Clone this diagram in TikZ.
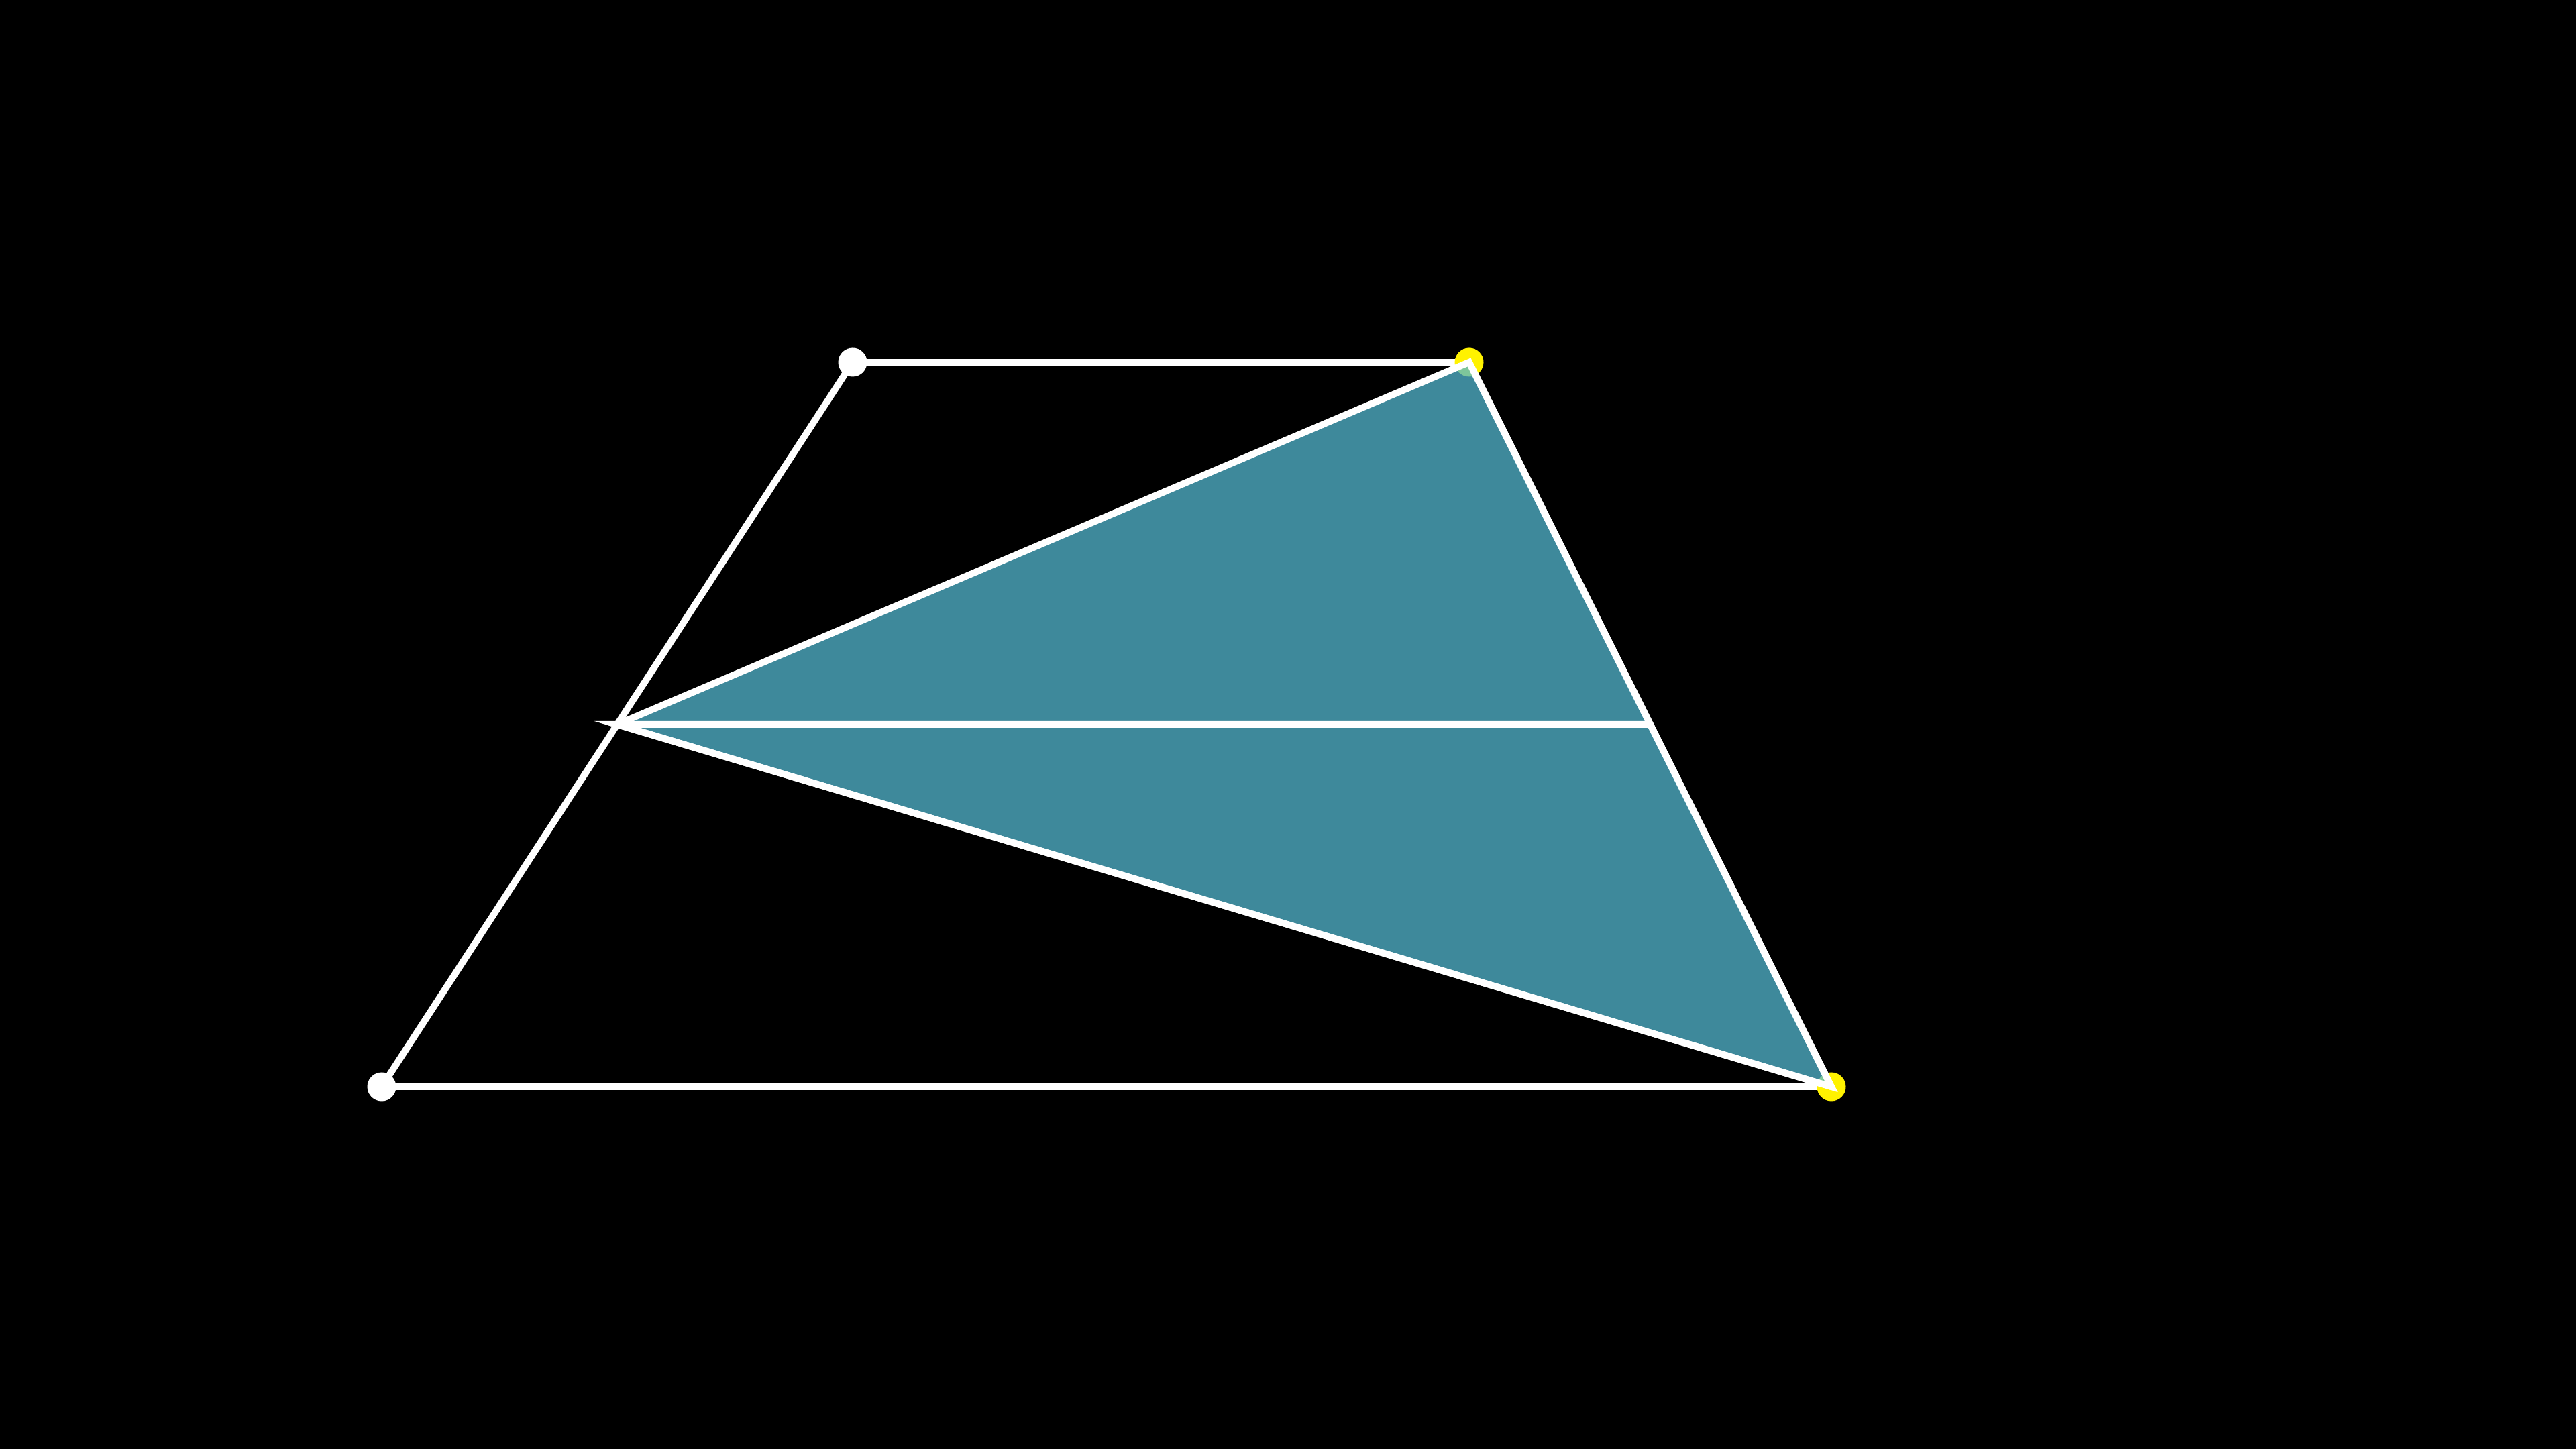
\documentclass[tikz,border=0pt]{standalone}
\usetikzlibrary{calc}
\begin{document}
\begin{tikzpicture}[x=1cm,y=1cm,
  edge/.style={draw=white,line width=0.1cm},
  wdot/.style={circle,fill=white,inner sep=0pt,minimum size=0.43cm},
  ydot/.style={circle,fill=yellow,inner sep=0pt,minimum size=0.43cm}]
\definecolor{tealfill}{RGB}{83,184,208}
\fill[black] (0,0) rectangle (38.4,21.6);
\useasboundingbox (0,0) rectangle (38.4,21.6);
\coordinate (A) at (12.71,16.20);
\coordinate (T) at (21.90,16.20);
\coordinate (B) at (27.30,5.40);
\coordinate (D) at (5.69,5.40);
\coordinate (M) at ($(A)!0.5!(D)$);
\coordinate (R) at ($(T)!0.5!(B)$);
% trapezoid
\draw[edge] (A) -- (T);
\draw[edge] (A) -- (D);
\draw[edge] (D) -- (B);
\draw[edge] (T) -- (B);
% vertex dots
\node[wdot] (a) at (A) {};
\node[wdot] (d) at (D) {};
\node[ydot] (t) at (T) {};
\node[ydot] (b) at (B) {};
% shaded triangle
\fill[tealfill,fill opacity=0.75] (M) -- (T) -- (B) -- cycle;
\draw[edge] (M) -- (T) -- (B) -- cycle;
\draw[edge] (B) -- (M) -- (R);
\end{tikzpicture}
\end{document}
